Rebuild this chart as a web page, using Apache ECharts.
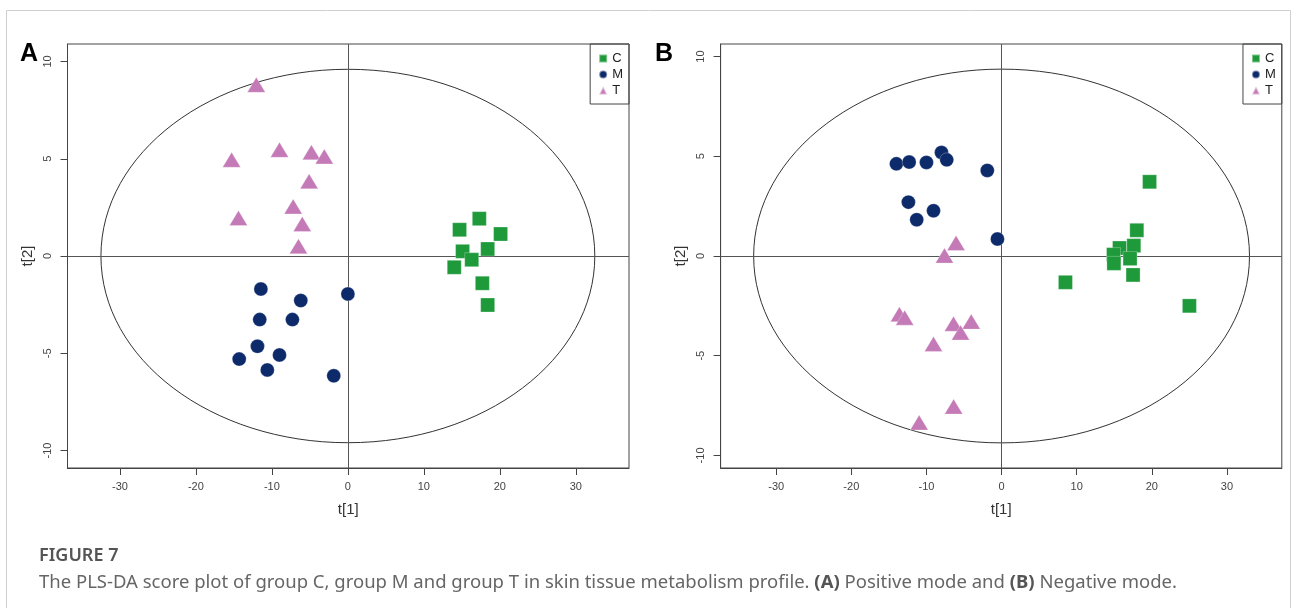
<!DOCTYPE html>
<html>
<head>
<meta charset="utf-8">
<script src="https://cdn.jsdelivr.net/npm/echarts@6/dist/echarts.min.js"></script>
<style>
html,body{margin:0;padding:0;background:#fff;}
#chart{width:1292px;height:608px;}
</style>
</head>
<body>
<div id="chart"></div>
<script>
// ---------- Data ----------
const groups = ['C', 'M', 'T'];
const tickValuesX = [-30, -20, -10, 0, 10, 20, 30];
const tickValuesY = [-10, -5, 0, 5, 10];

// Panel A (positive mode)
const A_C = [[17.3,1.92],[14.7,1.35],[20.1,1.13],[18.4,0.36],[15.1,0.24],[16.3,-0.19],[14.0,-0.58],[17.7,-1.40],[18.4,-2.52]];
const A_M = [[-11.45,-1.70],[0.0,-1.95],[-6.2,-2.29],[-11.6,-3.27],[-7.3,-3.27],[-11.9,-4.64],[-9.0,-5.09],[-14.3,-5.30],[-10.6,-5.86],[-1.86,-6.16]];
const A_T = [[-12.05,8.8],[-15.3,4.95],[-9.0,5.46],[-4.8,5.33],[-3.1,5.12],[-5.1,3.84],[-14.4,1.95],[-7.2,2.55],[-6.0,1.64],[-6.5,0.5]];
const A_ellipse = [32.5, 9.6];
const A_rangeX = [-36.9, 37.0];
const A_rangeY = [-10.9, 10.9];

// Panel B (negative mode)
const B_C = [[19.7,3.72],[18.0,1.29],[17.6,0.52],[15.7,0.40],[14.9,0.07],[17.1,-0.13],[14.95,-0.37],[17.5,-0.95],[8.5,-1.32],[25.0,-2.50]];
const B_M = [[-14.0,4.62],[-12.3,4.71],[-10.0,4.69],[-8.0,5.19],[-7.3,4.82],[-1.9,4.29],[-12.4,2.70],[-9.06,2.27],[-11.3,1.82],[-0.55,0.85]];
const B_T = [[-6.06,0.65],[-7.6,0.02],[-13.6,-2.92],[-12.9,-3.09],[-6.4,-3.40],[-4.04,-3.29],[-5.46,-3.84],[-9.06,-4.41],[-6.38,-7.55],[-10.97,-8.35]];
const B_ellipse = [33.0, 9.37];
const B_rangeX = [-37.4, 37.3];
const B_rangeY = [-10.63, 10.63];

// ---------- Styles ----------
const colors = {C:'#1e9a3b', M:'#0d2a6a', T:'#c57ab8'};
const symbols = {C:'rect', M:'circle', T:'triangle'};
const sizes = {C:[14,14], M:[14,14], T:[18,15]};
const FONT = 'Liberation Sans, Arial, Helvetica, sans-serif';

const grids = [
  {left: 67.5, top: 44, width: 561.5, height: 424},
  {left: 720.6, top: 44, width: 561.2, height: 424}
];

function xAxis(idx, range){
  return {
    type:'value', gridIndex: idx, min: range[0], max: range[1],
    name:'t[1]', nameLocation:'middle', nameGap: 34,
    nameTextStyle:{fontFamily:FONT, fontSize:15, color:'#333'},
    axisLine:{show:true, onZero:false, lineStyle:{color:'#444', width:1}},
    axisTick:{show:true, length:7, customValues: tickValuesX, lineStyle:{color:'#444'}},
    axisLabel:{show:true, customValues: tickValuesX, margin:13, fontFamily:FONT, fontSize:11, color:'#444'},
    splitLine:{show:false}
  };
}
function yAxis(idx, range){
  return {
    type:'value', gridIndex: idx, min: range[0], max: range[1],
    name:'t[2]', nameLocation:'middle', nameGap: 32, nameRotate: 90,
    nameTextStyle:{fontFamily:FONT, fontSize:15, color:'#333'},
    axisLine:{show:true, onZero:false, lineStyle:{color:'#444', width:1}},
    axisTick:{show:true, length:7, customValues: tickValuesY, lineStyle:{color:'#444'}},
    axisLabel:{show:true, customValues: tickValuesY, rotate:90, margin:14, fontFamily:FONT, fontSize:11, color:'#444'},
    splitLine:{show:false}
  };
}

function scatter(idx, name, data){
  return {
    type:'scatter', name, xAxisIndex: idx, yAxisIndex: idx, data,
    symbol: symbols[name], symbolSize: sizes[name],
    itemStyle:{color: colors[name], opacity:1, borderColor:'rgba(255,255,255,0.45)', borderWidth:0.6},
    emphasis:{disabled:true},
    z: 5
  };
}

function ellipseSeries(idx, radii){
  return {
    type:'custom', xAxisIndex: idx, yAxisIndex: idx, silent:true, z:3,
    data:[[0,0]],
    renderItem: function(params, api){
      const c = api.coord([0,0]);
      const r = api.coord([radii[0], radii[1]]);
      const rx = Math.abs(r[0]-c[0]), ry = Math.abs(c[1]-r[1]);
      return {
        type:'ellipse',
        shape:{cx:c[0], cy:c[1], rx:rx, ry:ry},
        style:{fill:'none', stroke:'#333', lineWidth:1}
      };
    }
  };
}

function crossLines(idx){
  return {
    type:'line', xAxisIndex: idx, yAxisIndex: idx, data:[], silent:true, z:2,
    markLine:{
      silent:true, symbol:'none', label:{show:false},
      lineStyle:{color:'#555', width:1, type:'solid'},
      data:[{xAxis:0},{yAxis:0}]
    }
  };
}

function legend(rightPx){
  return {
    orient:'vertical', right: rightPx, top: 44,
    data: groups.map(g => ({name:g, icon: symbols[g]})),
    itemWidth: 8, itemHeight: 8, itemGap: 3,
    padding:[8, 6, 7, 8],
    borderColor:'#444', borderWidth:1,
    textStyle:{fontFamily:FONT, fontSize:13, color:'#222', lineHeight:12},
    selectedMode:false
  };
}

const option = {
  backgroundColor:'#fff',
  animation:false,
  grid: grids.map(g => Object.assign({show:true, borderColor:'#444', borderWidth:1, backgroundColor:'transparent'}, g)),
  xAxis:[xAxis(0, A_rangeX), xAxis(1, B_rangeX)],
  yAxis:[yAxis(0, A_rangeY), yAxis(1, B_rangeY)],
  legend:[legend(1292-629), legend(1292-1281.8)],
  series:[
    crossLines(0), ellipseSeries(0, A_ellipse),
    scatter(0,'C',A_C), scatter(0,'M',A_M), scatter(0,'T',A_T),
    crossLines(1), ellipseSeries(1, B_ellipse),
    scatter(1,'C',B_C), scatter(1,'M',B_M), scatter(1,'T',B_T)
  ],
  graphic:[
    {type:'rect', shape:{x:6.5, y:10.5, width:1284, height:700}, style:{fill:'none', stroke:'#cfcfcf', lineWidth:1}, silent:true, z:-1},
    {type:'text', left:20, top:42, style:{text:'A', fontFamily:FONT, fontWeight:'bold', fontSize:25, fill:'#000'}},
    {type:'text', left:655, top:42, style:{text:'B', fontFamily:FONT, fontWeight:'bold', fontSize:25, fill:'#000'}},
    {type:'text', left:39, top:547, style:{text:'FIGURE 7', fontFamily:'Noto Sans, sans-serif', fontWeight:600, fontSize:18, fill:'#555'}},
    {type:'text', left:39, top:573, style:{
      text:'{n|The PLS-DA score plot of group C, group M and group T in skin tissue metabolism profile. }{b|(A)}{n| Positive mode and }{b|(B)}{n| Negative mode.}',
      rich:{
        n:{fontFamily:'Noto Sans, sans-serif', fontSize:18.5, fill:'#666', color:'#666'},
        b:{fontFamily:'Noto Sans, sans-serif', fontSize:18.5, fontWeight:'bold', fill:'#555', color:'#555'}
      }
    }}
  ]
};

const chart = echarts.init(document.getElementById('chart'), null, {renderer:'canvas'});
chart.setOption(option);
</script>
</body>
</html>
